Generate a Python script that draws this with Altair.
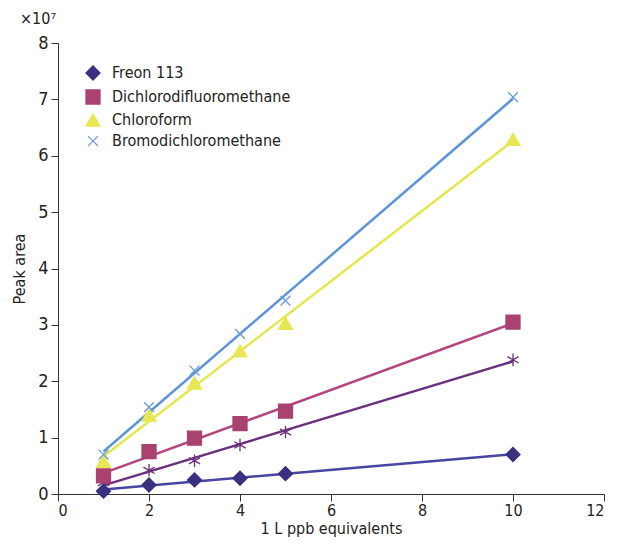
import altair as alt
import pandas as pd

x_vals = [1, 2, 3, 4, 5, 10]
freon = [0.05, 0.16, 0.25, 0.28, 0.36, 0.70]
dichloro = [0.32, 0.75, 0.99, 1.25, 1.47, 3.05]
unlabeled = [0.20, 0.42, 0.59, 0.87, 1.10, 2.38]
chloroform = [0.58, 1.40, 1.97, 2.54, 3.03, 6.29]
bromo = [0.70, 1.54, 2.19, 2.84, 3.43, 7.04]

legend_names = ["Freon 113", "Dichlorodifluoromethane", "Chloroform", "Bromodichloromethane"]
marker_colors = ["#3a2f80", "#a9426f", "#e8e652", "#6a9ad8"]
line_colors = {"Freon 113": "#4646a2", "Dichlorodifluoromethane": "#b3467f",
               "Other": "#6a2f7d", "Chloroform": "#e6e64c", "Bromodichloromethane": "#5f94d6"}

X_PATH = "M-0.7,-0.7L0.7,0.7M-0.7,0.7L0.7,-0.7"
STAR_PATH = "M0,-0.9L0,0.9M-0.8,-0.45L0.8,0.45M-0.8,0.45L0.8,-0.45"
shapes = ["diamond", "square", "triangle-up", X_PATH]

rows = []
for name, vals in [("Freon 113", freon), ("Dichlorodifluoromethane", dichloro),
                   ("Other", unlabeled), ("Chloroform", chloroform),
                   ("Bromodichloromethane", bromo)]:
    for xv, yv in zip(x_vals, vals):
        rows.append({"series": name, "x": xv, "y": yv})
df = pd.DataFrame(rows)

FONT = "DejaVu Sans Condensed, Roboto, sans-serif"

xscale = alt.Scale(domain=[0, 12], nice=False)
yscale = alt.Scale(domain=[0, 8], nice=False)
xax = alt.Axis(values=[0, 2, 4, 6, 8, 10, 12], format="d", title="1 L ppb equivalents", grid=False)
yax = alt.Axis(values=list(range(0, 9)), format="d", title="Peak area", grid=False)

base = alt.Chart(df)

layers = []
for name in ["Freon 113", "Other", "Dichlorodifluoromethane", "Chloroform", "Bromodichloromethane"]:
    layers.append(
        base.transform_filter(alt.datum.series == name)
        .transform_regression("x", "y")
        .mark_line(strokeWidth=2.5, color=line_colors[name])
        .encode(x=alt.X("x:Q", scale=xscale, axis=xax), y=alt.Y("y:Q", scale=yscale, axis=yax))
    )

star = (
    base.transform_filter(alt.datum.series == "Other")
    .mark_point(shape=STAR_PATH, size=196, filled=False, strokeWidth=1.3, color="#6a2f7d", opacity=1)
    .encode(x="x:Q", y="y:Q")
)
layers.append(star)

pts = (
    base.transform_filter(alt.FieldOneOfPredicate(field="series", oneOf=legend_names))
    .mark_point(size=196, opacity=1, strokeWidth=1.3)
    .encode(
        x="x:Q",
        y="y:Q",
        fill=alt.Fill("series:N", scale=alt.Scale(domain=legend_names, range=marker_colors),
                      legend=alt.Legend(title=None)),
        stroke=alt.Stroke("series:N", scale=alt.Scale(domain=legend_names, range=marker_colors),
                          legend=alt.Legend(title=None)),
        shape=alt.Shape("series:N", scale=alt.Scale(domain=legend_names, range=shapes),
                        legend=alt.Legend(title=None)),
    )
)
layers.append(pts)

exp_text = (
    alt.Chart(pd.DataFrame({"t": ["×10⁷"]}))
    .mark_text(font=FONT, fontSize=16, align="left", baseline="middle", color="#222")
    .encode(text="t:N", x=alt.value(-38), y=alt.value(-24))
)
layers.append(exp_text)

chart = (
    alt.layer(*layers)
    .properties(width=546, height=451, autosize=alt.AutoSizeParams(type="none"),
                padding={"left": 50, "top": 35, "right": 6, "bottom": 46})
    .configure_view(stroke=None)
    .configure_axis(
        labelFont=FONT, titleFont=FONT, labelFontSize=18, titleFontSize=16,
        titleFontWeight="normal", labelColor="#222", titleColor="#222",
        domainColor="#333", tickColor="#333", tickSize=7, labelPadding=3,
    )
    .configure_axisY(titlePadding=10)
    .configure_axisX(titlePadding=2, labelPadding=1, labelFontSize=16)
    .configure_legend(
        orient="none", legendX=27, legendY=22, labelFont=FONT, labelFontSize=16,
        labelColor="#222", symbolSize=196, rowPadding=4, symbolStrokeWidth=1.3,
        labelOffset=11, labelLimit=400,
    )
)

chart.save("out.html", embed_options={"renderer": "svg", "actions": False})
